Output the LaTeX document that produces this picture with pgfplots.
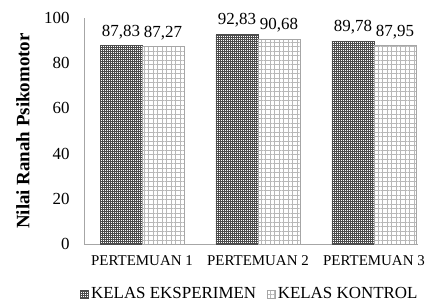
\documentclass[border=0pt]{standalone}
\usepackage{fontspec}
\setmainfont{Liberation Serif}
\usepackage{pgfplots}
\pgfplotsset{compat=1.18}
\usetikzlibrary{patterns.meta}
\begin{document}
\begin{tikzpicture}
\begin{axis}[
  scale only axis,
  width=334bp, height=226bp,
  xmin=-0.5, xmax=2.38,
  ymin=0, ymax=100,
  ybar=0pt,
  bar width=0.362,
  xtick={0,1,2},
  xticklabels={PERTEMUAN 1, PERTEMUAN 2, PERTEMUAN 3},
  ytick={0,20,40,60,80,100},
  axis x line*=bottom,
  axis y line*=left,
  axis line style={black!35, line width=0.8bp},
  major tick length=0pt,
  tick style={draw=none},
  /pgf/number format/assume math mode=true,
  yticklabel style={font=\fontsize{17}{20}\selectfont, xshift=-11bp},
  xticklabel style={font=\fontsize{15}{18}\selectfont, yshift=-8bp},
  every axis y label/.style={at={(axis description cs:0,0.5)}, xshift=-61bp, anchor=center, rotate=90, font=\fontsize{19}{22}\selectfont\bfseries},
  ylabel={Nilai Ranah Psikomotor},
  nodes near coords,
  nodes near coords style={font=\fontsize{17}{20}\selectfont, yshift=3bp, /pgf/number format/.cd, use comma, fixed, fixed zerofill, precision=2, assume math mode=true},
  clip=false,
  legend style={at={(axis description cs:0.5,0)}, xshift=-1bp, yshift=-50bp, anchor=center, draw=none, font=\fontsize{17}{20}\selectfont, legend columns=2, inner sep=0pt, /tikz/every even column/.append style={column sep=9bp}},
  legend image code/.code={\draw[#1] (0bp,-4bp) rectangle (8bp,4bp);},
]
\addplot[draw=black!70, line width=0.6bp, pattern={Hatch[distance=2bp, line width=0.45bp]}, pattern color=black!70]
  coordinates {(0,87.83) (1,92.83) (2,89.78)};
\addplot[draw=black!35, line width=0.6bp, pattern={Hatch[distance=4.5bp, line width=0.45bp]}, pattern color=black!28]
  coordinates {(0,87.27) (1,90.68) (2,87.95)};
\legend{KELAS EKSPERIMEN, KELAS KONTROL}
\coordinate (bl) at (rel axis cs:0,0);
\end{axis}
\pgfresetboundingbox
\path ([shift={(-84bp,-59bp)}]bl) rectangle ([shift={(342bp,244bp)}]bl);
\end{tikzpicture}
\end{document}
